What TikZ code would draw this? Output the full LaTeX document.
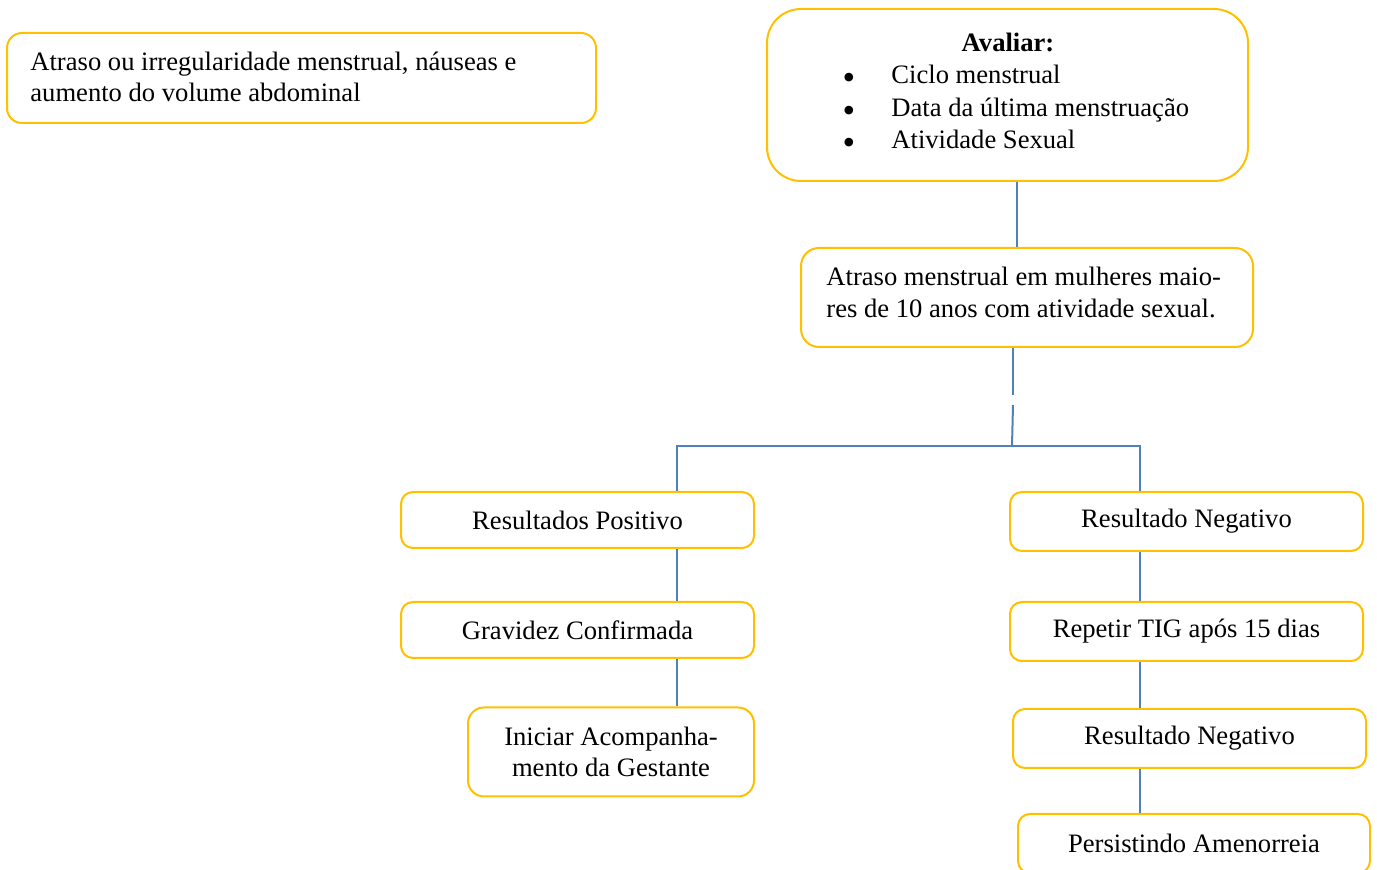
\documentclass[tikz,border=0pt]{standalone}
\usepackage{fontspec}
\setmainfont{Liberation Serif}
\definecolor{boxy}{HTML}{FFC000}
\definecolor{linkb}{HTML}{4F81BD}
\begin{document}
\begin{tikzpicture}[x=0.5pt,y=-0.5pt, font=\fontsize{13.3}{16}\selectfont,
  box/.style={draw=boxy, line width=1pt, rounded corners=6pt, inner sep=0pt, align=center},
  txt/.style={inner sep=0pt, anchor=base west},
  conn/.style={draw=linkb, line width=1pt}]
\useasboundingbox (0,0) rectangle (1377,870);
% top-left box
\node[box, rounded corners=7.5pt, minimum width=294.5pt, minimum height=45pt] (b1) at (301.5,78) {};
\node[txt] (t1a) at (30,71) {Atraso ou irregularidade menstrual, náuseas e};
\node[txt] (t1b) at (30,102) {aumento do volume abdominal};
% Avaliar box
\node[box, rounded corners=17pt, minimum width=240.5pt, minimum height=86pt] (avaliar) at (1007.5,95) {};
\node[inner sep=0pt, anchor=base] (avt) at (1008,52) {\textbf{Avaliar:}};
\foreach \y/\t [count=\i] in {84/Ciclo menstrual, 117/Data da última menstruação, 149/Atividade Sexual}{
  \node[inner sep=0pt, anchor=base] (bul\i) at (849,\y+5.5) {\fontsize{18}{16}\selectfont •};
  \node[txt] (item\i) at (891,\y) {\t};
}
% Atraso box
\node[box, rounded corners=9pt, minimum width=226pt, minimum height=49.5pt] (atraso) at (1027,297.5) {};
\node[txt] (t2a) at (826,286) {Atraso menstrual em mulheres maio-};
\node[txt] (t2b) at (826,318) {res de 10 anos com atividade sexual.};
% left branch
\node[box, minimum width=176.5pt, minimum height=28pt] (rp) at (577.5,520) {Resultados Positivo};
\node[box, minimum width=176.5pt, minimum height=28pt] (gc) at (577.5,630) {Gravidez Confirmada};
\node[box, rounded corners=8pt, minimum width=143pt, minimum height=44.5pt, font=\fontsize{13.3}{15.5}\selectfont] (ia) at (611,752) {Iniciar Acompanha-\\mento da Gestante};
% right branch
\node[box, minimum width=176.5pt, minimum height=29.5pt] (rn1) at (1186.5,521.5) {\raisebox{-1pt}{Resultado Negativo}};
\node[box, minimum width=176.5pt, minimum height=29.5pt] (rt) at (1186.5,631.5) {\raisebox{-1pt}{Repetir TIG após 15 dias}};
\node[box, minimum width=176.5pt, minimum height=29.5pt] (rn2) at (1189.5,738.5) {\raisebox{-0.5pt}{Resultado Negativo}};
\node[box, minimum width=176pt, minimum height=29.5pt] (pa) at (1194,843.5) {Persistindo Amenorreia};
% connectors
\coordinate (cA) at (1017,0);
\coordinate (j) at (1012,446);
\coordinate (g1) at (1013,395);
\coordinate (g2) at (1013,405);
\coordinate (cl) at (676.5,0);
\coordinate (cr) at (1139.5,0);
\draw[conn] (avaliar.south -| cA) -- (atraso.north -| cA);
\draw[conn] (atraso.south -| g1) -- (g1);
\draw[conn] (g2) -- (j);
\draw[conn] (rp.north -| cl) |- (j) -| (rn1.north -| cr);
\draw[conn] (rp.south -| cl) -- (gc.north -| cl);
\draw[conn] (gc.south -| cl) -- (ia.north -| cl);
\draw[conn] (rn1.south -| cr) -- (rt.north -| cr);
\draw[conn] (rt.south -| cr) -- (rn2.north -| cr);
\draw[conn] (rn2.south -| cr) -- (pa.north -| cr);
\end{tikzpicture}
\end{document}
